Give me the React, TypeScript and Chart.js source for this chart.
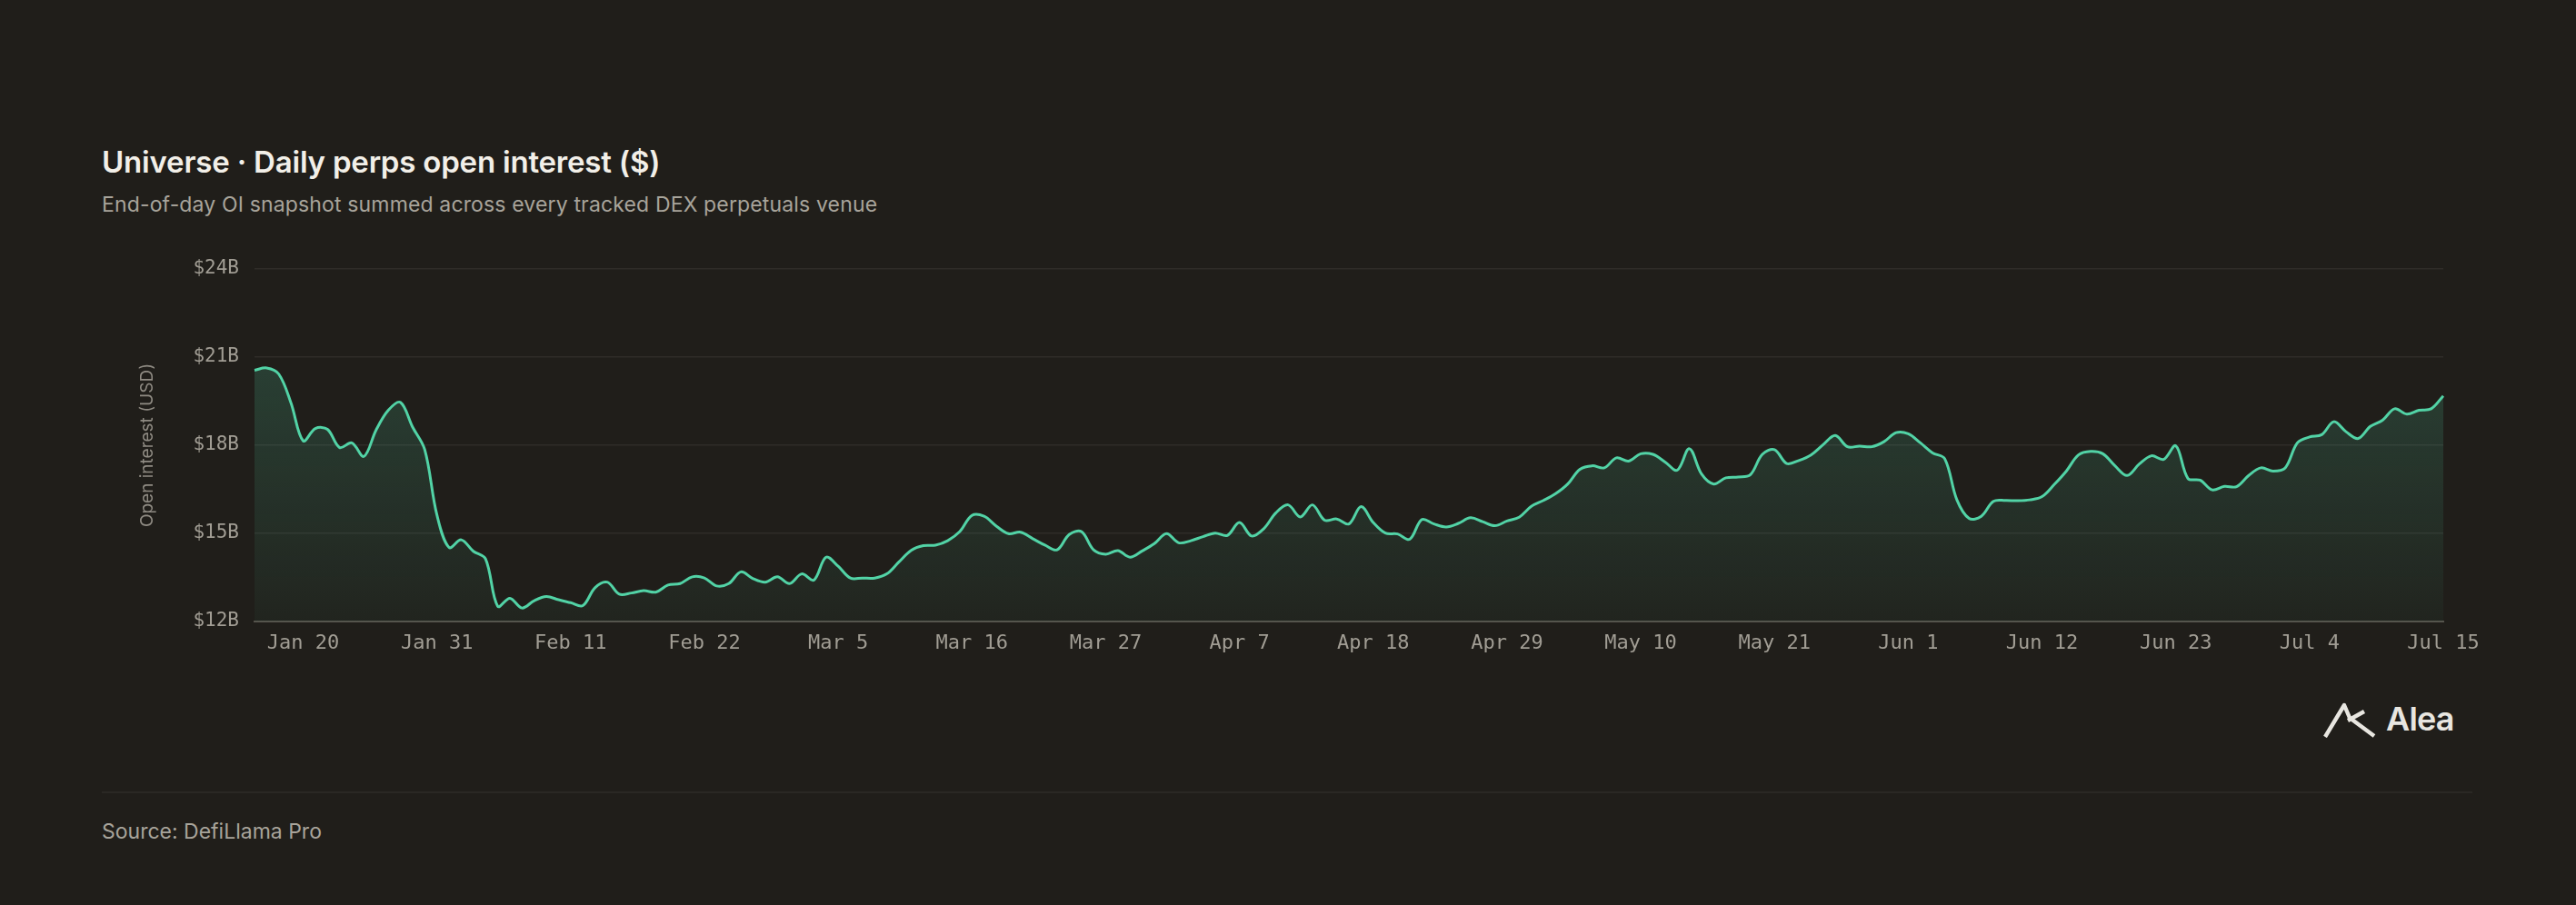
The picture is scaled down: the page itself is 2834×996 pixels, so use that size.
import React, { useEffect, useRef } from 'react';
import { Chart, registerables } from 'chart.js';

Chart.register(...registerables);

// daily OI, $B, Jan 16 → Jul 15
const JAN = [20.55, 20.63, 20.42, 19.44, 18.15, 18.57, 18.54, 17.92, 18.08, 17.62, 18.52, 19.19, 19.46, 18.62, 17.85, 15.63];
const FEB = [
  14.52, 14.78, 14.39, 14.13, 12.52, 12.79, 12.46, 12.71, 12.85, 12.74, 12.64, 12.54, 13.15, 13.34,
  12.93, 12.97, 13.05, 13.0, 13.24, 13.29, 13.52, 13.48, 13.21, 13.29, 13.69, 13.46, 13.34, 13.52,
];
const MAR = [
  13.29, 13.62, 13.41, 14.19, 13.88, 13.48, 13.48, 13.48, 13.62, 14.03, 14.42, 14.58, 14.6, 14.75, 15.06,
  15.61, 15.58, 15.25, 14.99, 15.04, 14.82, 14.6, 14.44, 14.96, 15.06, 14.44, 14.29, 14.41, 14.19, 14.4, 14.65,
];
const APR = [
  14.99, 14.68, 14.75, 14.89, 15.01, 14.93, 15.37, 14.91, 15.16, 15.7, 15.97, 15.56, 15.97, 15.45, 15.49,
  15.32, 15.91, 15.37, 15.01, 14.98, 14.8, 15.47, 15.32, 15.22, 15.34, 15.53, 15.4, 15.26, 15.42, 15.55,
];
const MAY = [
  15.92, 16.12, 16.35, 16.68, 17.18, 17.3, 17.23, 17.57, 17.46, 17.71, 17.69, 17.43, 17.15, 17.88, 17.02,
  16.68, 16.89, 16.92, 16.99, 17.69, 17.85, 17.38, 17.48, 17.67, 18.02, 18.33, 17.95, 17.97, 17.95, 18.12, 18.43,
];
const JUN = [
  18.39, 18.08, 17.74, 17.54, 16.14, 15.51, 15.58, 16.09, 16.12, 16.11, 16.14, 16.25, 16.66, 17.12, 17.67,
  17.79, 17.71, 17.3, 16.97, 17.36, 17.64, 17.52, 17.98, 16.87, 16.81, 16.48, 16.6, 16.59, 16.97, 17.23,
];
const JUL = [17.12, 17.23, 18.08, 18.28, 18.36, 18.8, 18.46, 18.23, 18.64, 18.85, 19.24, 19.06, 19.19, 19.24, 19.68];

const MONTHS = ['Jan', 'Feb', 'Mar', 'Apr', 'May', 'Jun', 'Jul'];
const MONTH_DATA = [JAN, FEB, MAR, APR, MAY, JUN, JUL];
const MONTH_START_DAY = [16, 1, 1, 1, 1, 1, 1];

const TICK_LABELS = [
  'Jan 20', 'Jan 31', 'Feb 11', 'Feb 22', 'Mar 5', 'Mar 16', 'Mar 27', 'Apr 7', 'Apr 18',
  'Apr 29', 'May 10', 'May 21', 'Jun 1', 'Jun 12', 'Jun 23', 'Jul 4', 'Jul 15',
];

const labels: string[] = [];
const values: number[] = [];
MONTH_DATA.forEach((arr, m) => {
  arr.forEach((v, d) => {
    labels.push(`${MONTHS[m]} ${MONTH_START_DAY[m] + d}`);
    values.push(v);
  });
});

const BG = '#201e1a';
const LINE = '#52d3a6';
const MONO = "'DejaVu Sans Mono', monospace";
const SANS = "Inter, 'Noto Sans', sans-serif";

const OpenInterestChart: React.FC = () => {
  const chartRef = useRef<HTMLCanvasElement>(null);

  useEffect(() => {
    if (!chartRef.current) return;
    const chart = new Chart(chartRef.current, {
      type: 'line',
      data: {
        labels,
        datasets: [
          {
            data: values,
            borderColor: LINE,
            borderWidth: 3,
            pointRadius: 0,
            tension: 0.35,
            fill: 'start',
            backgroundColor: (ctx: any) => {
              const { chart: c } = ctx;
              const area = c.chartArea;
              if (!area) return 'transparent';
              const g = c.ctx.createLinearGradient(0, area.top, 0, area.bottom);
              g.addColorStop(0, 'rgba(82, 211, 166, 0.24)');
              g.addColorStop(1, 'rgba(82, 211, 166, 0.04)');
              return g;
            },
          },
        ],
      },
      options: {
        responsive: true,
        maintainAspectRatio: false,
        animation: false,
        layout: { padding: { top: 46, right: 72, bottom: 0, left: 0 } },
        plugins: { legend: { display: false }, tooltip: { enabled: false } },
        scales: {
          x: {
            offset: false,
            grid: { display: false, drawTicks: false },
            border: { display: true, color: '#55524b', width: 2 },
            ticks: {
              autoSkip: false,
              maxRotation: 0,
              padding: 11,
              color: '#a19d94',
              font: { family: MONO, size: 22 },
              callback: (_v: any, i: number) => (TICK_LABELS.includes(labels[i]) ? labels[i] : ''),
            },
            afterFit: (s: any) => {
              s.height = 66;
            },
          },
          y: {
            min: 12,
            max: 24,
            grid: { color: '#2f2c28', lineWidth: 1.5, drawTicks: false },
            border: { display: false },
            ticks: {
              stepSize: 3,
              padding: 17,
              color: '#a19d94',
              font: { family: MONO, size: 21 },
              callback: (v: any) => `$${v}B`,
            },
            title: {
              display: true,
              text: 'Open interest (USD)',
              color: '#8f8b83',
              font: { family: SANS, size: 19 },
              padding: { top: 51, bottom: 0 },
            },
            afterFit: (s: any) => {
              s.width = 180;
            },
          },
        },
      },
    });

    return () => {
      chart.destroy();
    };
  }, []);

  return (
    <div style={{ position: 'absolute', left: 100, top: 250, width: 2660, height: 500 }}>
      <canvas ref={chartRef} />
    </div>
  );
};

const AleaLogo: React.FC = () => (
  <div style={{ position: 'absolute', left: 2554, top: 769, display: 'flex', alignItems: 'center', gap: 11 }}>
    <svg width="60" height="41" viewBox="0 0 60 41">
      <g stroke="#e8e6e0" strokeWidth="4.4" fill="none" strokeLinejoin="round">
        <path d="M4 40 L25 5 L31 19 L58 39" />
        <path d="M29 22 L47 12" />
      </g>
    </svg>
    <span style={{ fontFamily: SANS, fontWeight: 600, fontSize: 36, color: '#e8e6e0', letterSpacing: -0.8 }}>Alea</span>
  </div>
);

export default function App() {
  useEffect(() => {
    document.body.style.margin = '0';
    document.body.style.background = BG;
  }, []);

  return (
    <div style={{ position: 'fixed', left: 0, top: 0, width: 2834, height: 996, background: BG, overflow: 'hidden' }}>
      <div
        style={{
          position: 'absolute',
          left: 112,
          top: 157,
          fontFamily: SANS,
          fontWeight: 600,
          fontSize: 33,
          lineHeight: '42px',
          letterSpacing: -0.2,
          color: '#f2efe8',
        }}
      >
        Universe · Daily perps open interest ($)
      </div>
      <div
        style={{
          position: 'absolute',
          left: 112,
          top: 209,
          fontFamily: SANS,
          fontSize: 23,
          lineHeight: '32px',
          letterSpacing: 0.15,
          color: '#a8a49b',
        }}
      >
        End-of-day OI snapshot summed across every tracked DEX perpetuals venue
      </div>
      <OpenInterestChart />
      <AleaLogo />
      <div style={{ position: 'absolute', left: 112, top: 871, width: 2608, height: 2, background: '#2a2824' }} />
      <div
        style={{
          position: 'absolute',
          left: 112,
          top: 899,
          fontFamily: SANS,
          fontSize: 23,
          lineHeight: '32px',
          color: '#a8a49b',
        }}
      >
        Source: DefiLlama Pro
      </div>
    </div>
  );
}
